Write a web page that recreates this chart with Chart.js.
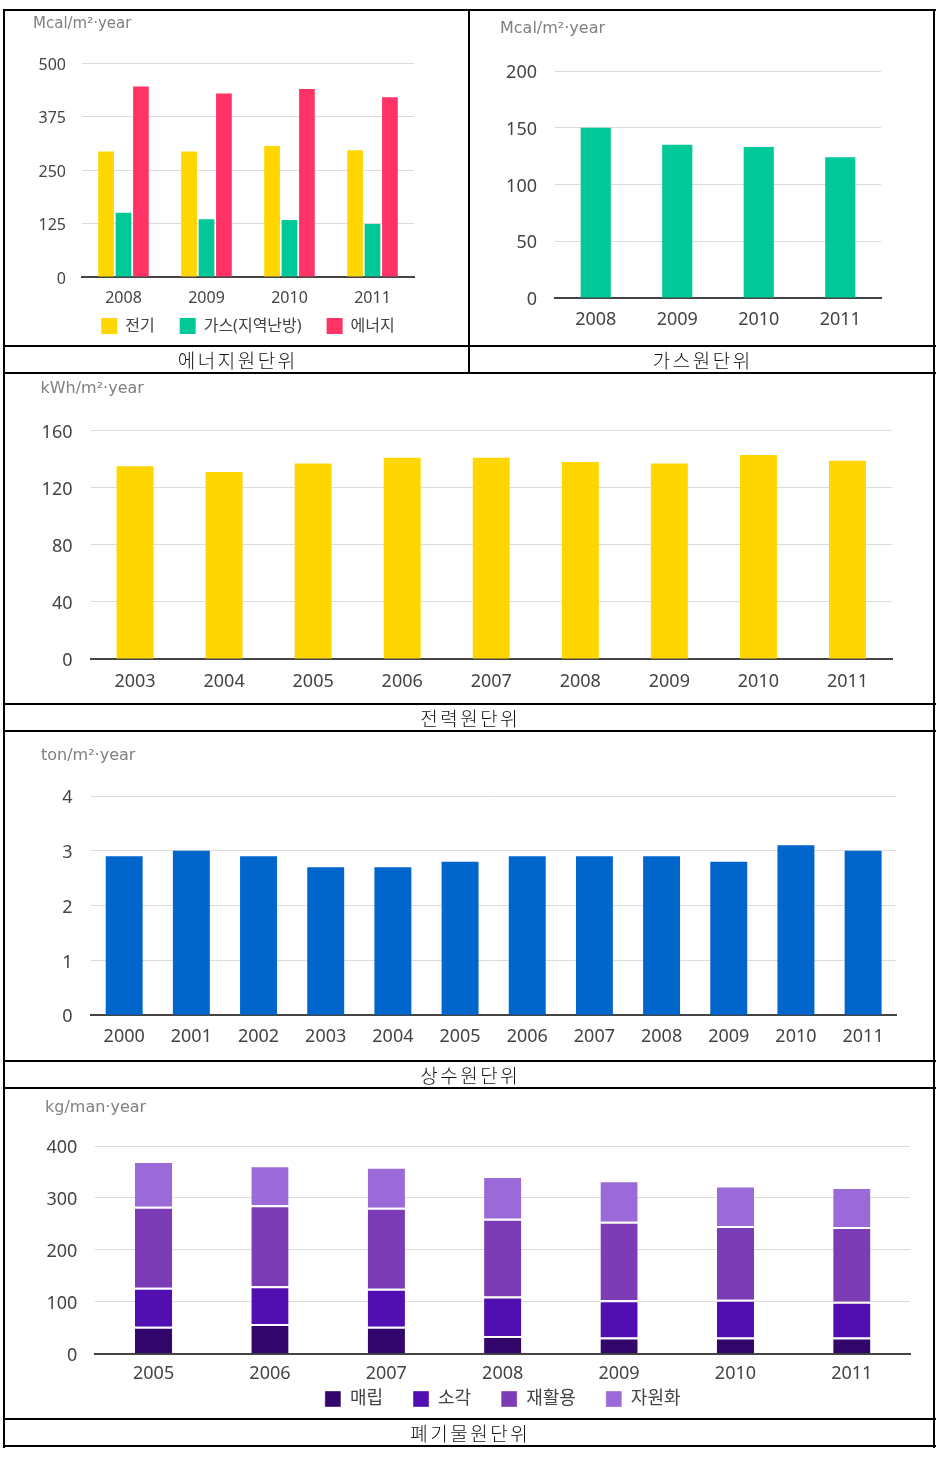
<!DOCTYPE html>
<html>
<head>
<meta charset="utf-8">
<script src="https://cdn.jsdelivr.net/npm/chart.js@4.4.1/dist/chart.umd.min.js"></script>
<style>
body{margin:0;background:#fff;width:947px;height:1457px;position:relative;overflow:hidden;font-family:'Noto Sans CJK KR',sans-serif}
.ln{position:absolute;background:#000}
.cap{position:absolute;text-align:center;font-size:19px;font-weight:300;letter-spacing:2.5px;padding-left:2.5px;box-sizing:border-box;color:#111;line-height:27px}
canvas{position:absolute}
</style>
</head>
<body>
<canvas id="c_energy"></canvas>
<canvas id="c_gas"></canvas>
<canvas id="c_elec"></canvas>
<canvas id="c_water"></canvas>
<canvas id="c_waste"></canvas>
<div id="table"></div>
<script>
// 에너지원단위 / 가스원단위 (Mcal/m²·year)
const energyYears = ['2008', '2009', '2010', '2011'];
const elecMcal = [293, 293, 306, 296];
const gasMcal = [150, 135, 133, 124];
const energyMcal = [445, 429, 439, 420];

// 전력원단위 (kWh/m²·year)
const elecYears = ['2003', '2004', '2005', '2006', '2007', '2008', '2009', '2010', '2011'];
const elecKwh = [135, 131, 137, 141, 141, 138, 137, 143, 139];

// 상수원단위 (ton/m²·year)
const waterYears = ['2000', '2001', '2002', '2003', '2004', '2005', '2006', '2007', '2008', '2009', '2010', '2011'];
const waterTon = [2.9, 3.0, 2.9, 2.7, 2.7, 2.8, 2.9, 2.9, 2.9, 2.8, 3.1, 3.0];

// 폐기물원단위 (kg/man·year)
const wasteYears = ['2005', '2006', '2007', '2008', '2009', '2010', '2011'];
const landfill = [52, 57, 52, 34, 31, 31, 31];
const incinerate = [75, 73, 73, 76, 72, 73, 69];
const recycle = [156, 156, 156, 150, 151, 142, 144];
const resource = [88, 77, 79, 82, 80, 78, 77];

Chart.defaults.font.family = "'Noto Sans', 'Noto Sans CJK KR', sans-serif";
Chart.defaults.color = '#444';

// table lines
let table = document.getElementById('table');
let hLine = (y, x1, x2) => {
    table.insertAdjacentHTML('beforeend', "<div class='ln' style='left:" + x1 + "px;top:" + (y - 1) + "px;width:" + (x2 - x1 + 1) + "px;height:2px'></div>");
};
let vLine = (x, y1, y2) => {
    table.insertAdjacentHTML('beforeend', "<div class='ln' style='left:" + (x - 1) + "px;top:" + y1 + "px;width:2px;height:" + (y2 - y1 + 1) + "px'></div>");
};
let caption = (text, x1, x2, y) => {
    table.insertAdjacentHTML('beforeend', "<div class='cap' style='left:" + x1 + "px;width:" + (x2 - x1) + "px;top:" + y + "px'>" + text + "</div>");
};
[10, 346, 373, 704, 731, 1061, 1088, 1419, 1446].forEach(y => hLine(y, 3, 935));
vLine(4, 9, 1447);
vLine(934, 9, 1447);
vLine(469, 9, 373);
caption('에너지원단위', 4, 469, 346);
caption('가스원단위', 469, 934, 346);
caption('전력원단위', 4, 934, 704);
caption('상수원단위', 4, 934, 1061);
caption('폐기물원단위', 4, 934, 1419);

// put the legend under the chart area, centred on it, at a fixed height
const legendMove = {
    id: 'legendMove',
    afterLayout(chart, args, opts) {
        const lg = chart.legend;
        if (!lg || opts.top === undefined) return;
        const ca = chart.chartArea;
        const h = lg.height;
        lg.left = ca.left - 60;
        lg.right = ca.right + 60;
        lg.width = lg.right - lg.left;
        lg.top = opts.top;
        lg.bottom = opts.top + h;
    }
};

let drawChart = (id, p) => {
    const cv = document.getElementById(id);
    cv.width = p.w;
    cv.height = p.h;
    cv.style.left = p.x + 'px';
    cv.style.top = p.y + 'px';
    return new Chart(cv, {
        type: 'bar',
        data: { labels: p.labels, datasets: p.datasets },
        plugins: [legendMove],
        options: {
            responsive: false,
            animation: false,
            devicePixelRatio: 1,
            layout: { padding: { left: p.padL, right: p.padR, top: 0, bottom: 0 } },
            plugins: {
                title: {
                    display: true, text: p.unit, align: 'start', color: '#808080',
                    font: { family: "'DejaVu Sans', sans-serif", size: p.us, weight: 'normal' },
                    padding: { top: p.tTop, bottom: p.tBottom }
                },
                legend: p.legend ? {
                    display: true, position: 'bottom', fullSize: true,
                    labels: { boxWidth: 16, boxHeight: 16, padding: p.legend.pad, color: '#444', font: { size: p.legend.fs } }
                } : { display: false },
                legendMove: p.legend ? { top: p.legend.top } : {},
                tooltip: { enabled: false }
            },
            scales: {
                x: {
                    stacked: !!p.stacked,
                    grid: { display: false, drawTicks: false },
                    border: { color: '#444', width: 2 },
                    ticks: { color: '#444', padding: p.xPad, font: { size: p.fs }, maxRotation: 0, autoSkip: false },
                    afterFit: s => { s.height = p.xH; }
                },
                y: {
                    stacked: !!p.stacked,
                    min: 0, max: p.max,
                    ticks: { stepSize: p.step, color: '#444', padding: p.yPad, labelOffset: 2, font: { size: p.fs } },
                    grid: { color: '#dcdcdc', drawTicks: false },
                    border: { display: false },
                    afterFit: s => { s.width = p.yW; }
                }
            }
        }
    });
};

drawChart('c_energy', {
    x: 5, y: 11, w: 463, h: 351, padL: 28, padR: 54, yW: 49, yPad: 16, fs: 16, us: 15,
    tTop: 4, tBottom: 30, xH: 34, xPad: 11.5, max: 500, step: 125,
    unit: 'Mcal/m²·year', labels: energyYears, legend: { pad: 25, top: 282, fs: 16 },
    datasets: [
        { label: '전기', data: elecMcal, backgroundColor: '#ffd600', categoryPercentage: 0.63, barPercentage: 0.9 },
        { label: '가스(지역난방)', data: gasMcal, backgroundColor: '#00c896', categoryPercentage: 0.63, barPercentage: 0.9 },
        { label: '에너지', data: energyMcal, backgroundColor: '#ff3366', categoryPercentage: 0.63, barPercentage: 0.9 }
    ]
});

drawChart('c_gas', {
    x: 470, y: 11, w: 463, h: 327, padL: 30, padR: 52, yW: 55, yPad: 18, fs: 18, us: 16,
    tTop: 8.4, tBottom: 32.4, xH: 40, xPad: 11, max: 200, step: 50,
    unit: 'Mcal/m²·year', labels: energyYears,
    datasets: [
        { label: '가스', data: gasMcal, backgroundColor: '#00c896', categoryPercentage: 1, barPercentage: 0.37 }
    ]
});

drawChart('c_elec', {
    x: 5, y: 374, w: 929, h: 325, padL: 35.5, padR: 42, yW: 50, yPad: 18, fs: 18, us: 16,
    tTop: 5.7, tBottom: 31.8, xH: 40, xPad: 12.5, max: 160, step: 40,
    unit: 'kWh/m²·year', labels: elecYears,
    datasets: [
        { label: '전력', data: elecKwh, backgroundColor: '#ffd600', categoryPercentage: 1, barPercentage: 0.415 }
    ]
});

drawChart('c_water', {
    x: 5, y: 732, w: 929, h: 323, padL: 36, padR: 37.3, yW: 49.6, yPad: 18, fs: 18, us: 16,
    tTop: 14.4, tBottom: 30.4, xH: 39.7, xPad: 10.9, max: 4, step: 1,
    unit: 'ton/m²·year', labels: waterYears,
    datasets: [
        { label: '상수', data: waterTon, backgroundColor: '#0066cc', categoryPercentage: 1, barPercentage: 0.55 }
    ]
});

let sep = { top: 2, right: 0, bottom: 0, left: 0 };
let wasteSet = (label, data, color) => ({
    label: label, data: data, backgroundColor: color,
    borderColor: 'rgba(255,255,255,0.75)', borderWidth: sep, borderSkipped: false,
    categoryPercentage: 1, barPercentage: 0.32
});
drawChart('c_waste', {
    x: 5, y: 1089, w: 929, h: 356, padL: 40, padR: 24, yW: 50.4, yPad: 18, fs: 18, us: 16,
    tTop: 9.1, tBottom: 28.7, xH: 33.3, xPad: 9.5, max: 400, step: 100, stacked: true,
    unit: 'kg/man·year', labels: wasteYears, legend: { pad: 30, top: 271, fs: 18 },
    datasets: [
        wasteSet('매립', landfill, '#33066b'),
        wasteSet('소각', incinerate, '#510eb0'),
        wasteSet('재활용', recycle, '#7b3cb6'),
        wasteSet('자원화', resource, '#9a6ad8')
    ]
});
</script>
</body>
</html>
